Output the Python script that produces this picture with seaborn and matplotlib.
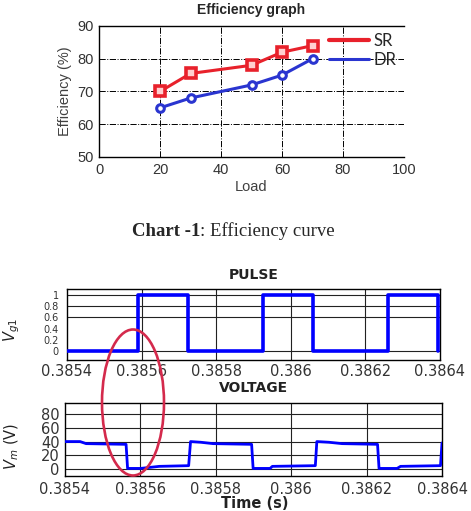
import numpy as np
import pandas as pd
import seaborn as sns
import matplotlib.pyplot as plt
from matplotlib.lines import Line2D
from matplotlib.patches import Ellipse

# Efficiency data
load = [20, 30, 50, 60, 70]
eff_sr = [70, 75.5, 78, 82, 84]
eff_dr = [65, 68, 72, 75, 80]

# Pulse waveform (gate signal)
pulse_t = [0.3854, 0.38559, 0.38559, 0.385724, 0.385724, 0.385926, 0.385926,
           0.38606, 0.38606, 0.386261, 0.386261, 0.386395, 0.386395]
pulse_v = [0, 0, 1, 1, 0, 0, 1, 1, 0, 0, 1, 1, 0]

# Voltage waveform
volt_t = [0.3854, 0.38544, 0.385456, 0.385562, 0.385566, 0.3856, 0.38565, 0.385728,
          0.385733, 0.38576, 0.385793, 0.385895, 0.385899, 0.385944, 0.38595, 0.386064,
          0.386068, 0.3861, 0.386135, 0.386229, 0.386233, 0.386281, 0.38629, 0.386396, 0.3864]
volt_v = [40, 40, 37, 36, 1, 1, 4, 5, 40, 39, 37, 36, 1, 1, 4, 5,
          40, 39, 37, 36, 1, 1, 4, 5, 38]

time_ticks = [0.3854, 0.3856, 0.3858, 0.386, 0.3862, 0.3864]
time_labels = ['0.3854', '0.3856', '0.3858', '0.386', '0.3862', '0.3864']

sns.set_style('white')
plt.rcParams['font.family'] = ['DejaVu Sans']

RED = '#e8212b'
BLUE = '#2a35d0'
W, H = 471, 511
fig = plt.figure(figsize=(W / 100, H / 100), dpi=100)

def box(l, t, r, b):
    return [l / W, 1 - b / H, (r - l) / W, (b - t) / H]

# ---------- Efficiency graph ----------
ax1 = fig.add_axes(box(99, 26, 404, 157))
sns.lineplot(x=load, y=eff_sr, ax=ax1, color=RED, lw=2.2, marker='s', ms=6.5,
             mfc='#ffd0d0', mec=RED, mew=2.6, sort=False)
sns.lineplot(x=load, y=eff_dr, ax=ax1, color=BLUE, lw=2.2, marker='o', ms=5.5,
             mfc='white', mec=BLUE, mew=2.2, sort=False)
ax1.set_xlim(0, 100)
ax1.set_ylim(50, 90)
ax1.set_xticks([0, 20, 40, 60, 80, 100])
ax1.set_yticks([50, 60, 70, 80, 90])
for x in [20, 40, 60, 80]:
    ax1.axvline(x, color='black', ls='-.', lw=0.7, zorder=0)
for y in [60, 70, 80]:
    ax1.axhline(y, color='black', ls='-.', lw=0.7, zorder=0)
for s in ['left', 'bottom', 'top']:
    ax1.spines[s].set_color('black')
    ax1.spines[s].set_linewidth(1.0)
ax1.spines['right'].set_visible(False)
ax1.tick_params(labelsize=10.5, labelcolor='#333333', length=0, pad=4)
for lab in ax1.get_xticklabels() + ax1.get_yticklabels():
    lab.set_family('Liberation Sans')
ax1.set_xlabel('')
ax1.set_ylabel('')
ax1.text(0.5, -0.229, 'Load', transform=ax1.transAxes, ha='center', va='center',
         fontsize=10.5, color='#404040', family='Liberation Sans')
ax1.text(-0.111, 0.5, 'Efficiency (%)', transform=ax1.transAxes, ha='center',
         va='center', rotation=90, fontsize=10.5, color='#404040', family='Liberation Sans')
ax1.text(0.5, 1.122, 'Efficiency graph', transform=ax1.transAxes, ha='center',
         va='center', fontsize=10, fontweight='bold', family='Liberation Sans')
handles = [Line2D([], [], color=RED, lw=3.0), Line2D([], [], color=BLUE, lw=2.2)]
ax1.legend(handles, ['SR', 'DR'], loc='upper left', bbox_to_anchor=(0.754, 0.945),
           frameon=False, borderpad=0, borderaxespad=0, handlelength=2.4,
           handletextpad=0.25, labelspacing=0.14, prop={'family': 'Lato', 'size': 12})

# ---------- Caption ----------
fig.text(200 / W, 1 - 231 / H, 'Chart -1', ha='right', va='center', fontsize=13.5,
         fontweight='bold', family='Liberation Serif')
fig.text(200 / W, 1 - 231 / H, ': Efficiency curve', ha='left', va='center',
         fontsize=13.5, family='Liberation Serif')

# ---------- Pulse ----------
ax2 = fig.add_axes(box(67, 289, 440, 360))
sns.lineplot(x=pulse_t, y=pulse_v, ax=ax2, color='#0000ff', lw=2.6, sort=False,
             estimator=None, zorder=3)
ax2.set_xlim(0.3854, 0.3864)
ax2.set_ylim(-0.15, 1.1)
ax2.set_xticks(time_ticks)
ax2.set_xticklabels(time_labels)
ax2.set_yticks([0, 0.2, 0.4, 0.6, 0.8, 1])
ax2.set_yticklabels(['0', '0.2', '0.4', '0.6', '0.8', '1'])
for x in time_ticks[1:-1]:
    ax2.axvline(x, color='#222222', lw=0.8, zorder=1)
for y in [0, 0.6, 0.8, 1]:
    ax2.axhline(y, color='#222222', lw=0.8, zorder=1)
for s in ax2.spines.values():
    s.set_color('black')
    s.set_linewidth(1.0)
ax2.tick_params(axis='x', labelsize=10.5, labelcolor='#333333', length=0, pad=3)
ax2.tick_params(axis='y', labelsize=7, labelcolor='#333333', length=3, direction='in', pad=6)
ax2.set_xlabel('')
ax2.set_ylabel('')
ax2.text(-0.148, 0.42, '$V_{g1}$', transform=ax2.transAxes, ha='center', va='center',
         rotation=90, fontsize=10.5, color='#222222')
ax2.text(0.5, 1.197, 'PULSE', transform=ax2.transAxes, ha='center', va='center',
         fontsize=10, fontweight='bold', color='#222222')

# ---------- Voltage ----------
ax3 = fig.add_axes(box(65, 403, 442, 476))
sns.lineplot(x=volt_t, y=volt_v, ax=ax3, color='#0000ff', lw=2.0, sort=False,
             estimator=None, zorder=3)
ax3.set_xlim(0.3854, 0.3864)
ax3.set_ylim(-10, 96)
ax3.set_xticks(time_ticks)
ax3.set_xticklabels(time_labels)
ax3.set_yticks([0, 20, 40, 60, 80])
for x in time_ticks[1:-1]:
    ax3.axvline(x, color='#222222', lw=0.8, zorder=1)
for y in [0, 20, 40, 60, 80]:
    ax3.axhline(y, color='#222222', lw=0.8, zorder=1)
for s in ax3.spines.values():
    s.set_color('black')
    s.set_linewidth(1.0)
ax3.tick_params(labelsize=10.5, labelcolor='#333333', length=0, pad=4)
ax3.set_xlabel('')
ax3.set_ylabel('')
ax3.text(-0.14, 0.4, '$V_m$ (V)', transform=ax3.transAxes, ha='center', va='center',
         rotation=90, fontsize=10.5, color='#222222')
ax3.text(0.5, 1.211, 'VOLTAGE', transform=ax3.transAxes, ha='center', va='center',
         fontsize=10, fontweight='bold', color='#222222')
ax3.text(0.504, -0.38, 'Time (s)', transform=ax3.transAxes, ha='center', va='center',
         fontsize=10.5, fontweight='bold', color='#222222')

# red ellipse annotation
fig.add_artist(Ellipse((133 / W, 1 - 402.5 / H), 62 / W, 146 / H,
                       transform=fig.transFigure, fill=False, ec='#d42a4c', lw=1.9))

plt.savefig('out.png', dpi=100)
